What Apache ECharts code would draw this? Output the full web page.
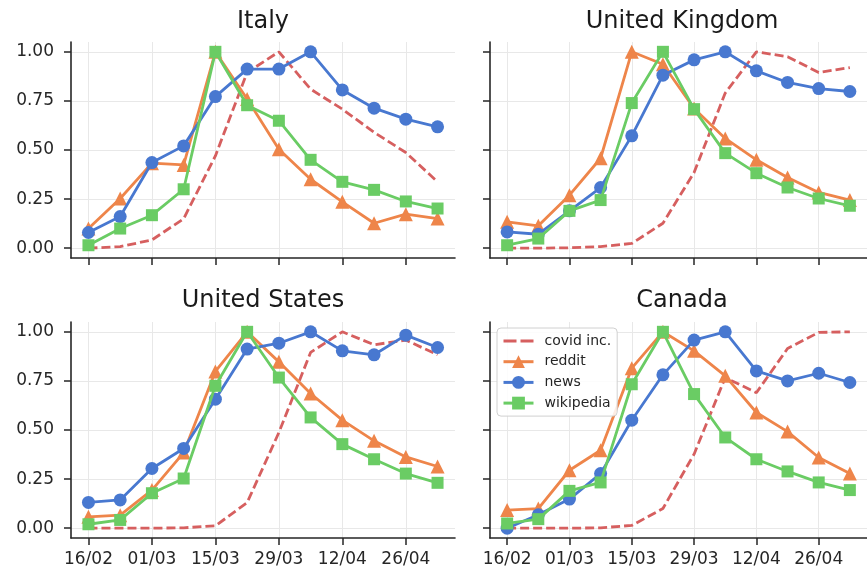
<!DOCTYPE html>
<html>
<head>
<meta charset="utf-8">
<script src="https://cdn.jsdelivr.net/npm/echarts@6/dist/echarts.min.js"></script>
<style>
html,body{margin:0;padding:0;background:#fff;}
#chart{width:867px;height:571px;}
</style>
</head>
<body>
<div id="chart"></div>
<script>
// ---- data ----
const weeks = ['16/02','23/02','01/03','08/03','15/03','22/03','29/03','05/04','12/04','19/04','26/04','03/05'];
const tickLabels = ['16/02','01/03','15/03','29/03','12/04','26/04'];
const yTickLabels = ['0.00','0.25','0.50','0.75','1.00'];
const countries = ['Italy','United Kingdom','United States','Canada'];
const seriesNames = ['covid inc.','reddit','news','wikipedia'];

const italyCovid  = [0, 0.008, 0.042, 0.15, 0.47, 0.895, 1.0, 0.81, 0.708, 0.59, 0.487, 0.338];
const italyReddit = [0.10, 0.253, 0.433, 0.424, 1.0, 0.76, 0.504, 0.351, 0.236, 0.127, 0.173, 0.151];
const italyNews   = [0.08, 0.161, 0.436, 0.521, 0.772, 0.912, 0.912, 1.0, 0.806, 0.713, 0.657, 0.618];
const italyWiki   = [0.015, 0.10, 0.168, 0.30, 1.0, 0.728, 0.649, 0.45, 0.338, 0.297, 0.238, 0.202];

const ukCovid  = [0, 0, 0.002, 0.008, 0.024, 0.127, 0.385, 0.79, 1.0, 0.975, 0.895, 0.92];
const ukReddit = [0.134, 0.114, 0.27, 0.458, 1.0, 0.937, 0.711, 0.559, 0.45, 0.36, 0.284, 0.245];
const ukNews   = [0.083, 0.071, 0.19, 0.309, 0.572, 0.881, 0.959, 1.0, 0.903, 0.844, 0.813, 0.798];
const ukWiki   = [0.015, 0.049, 0.19, 0.245, 0.739, 1.0, 0.708, 0.484, 0.382, 0.309, 0.253, 0.216];

const usCovid  = [0, 0, 0, 0.002, 0.012, 0.13, 0.487, 0.895, 1.0, 0.934, 0.958, 0.883];
const usReddit = [0.058, 0.066, 0.194, 0.385, 0.798, 1.0, 0.847, 0.686, 0.55, 0.445, 0.363, 0.314];
const usNews   = [0.131, 0.144, 0.304, 0.406, 0.657, 0.912, 0.942, 1.0, 0.903, 0.883, 0.983, 0.92];
const usWiki   = [0.02, 0.042, 0.178, 0.253, 0.725, 1.0, 0.767, 0.564, 0.428, 0.351, 0.278, 0.231];

const caCovid  = [0, 0, 0, 0.002, 0.014, 0.10, 0.377, 0.767, 0.69, 0.915, 0.997, 1.0];
const caReddit = [0.092, 0.10, 0.295, 0.397, 0.815, 1.0, 0.903, 0.776, 0.589, 0.492, 0.36, 0.278];
const caNews   = [0.0, 0.068, 0.148, 0.278, 0.55, 0.781, 0.958, 1.0, 0.801, 0.75, 0.789, 0.742];
const caWiki   = [0.024, 0.046, 0.19, 0.233, 0.733, 1.0, 0.683, 0.462, 0.351, 0.289, 0.233, 0.194];

const panelData = [
  [italyCovid, italyReddit, italyNews, italyWiki],
  [ukCovid, ukReddit, ukNews, ukWiki],
  [usCovid, usReddit, usNews, usWiki],
  [caCovid, caReddit, caNews, caWiki]
];

// ---- layout & style ----
const FONT = 'DejaVu Sans';
const TXT = '#262626';
const colors = ['#d65f5f', '#ee854a', '#4878d0', '#6acc64'];
const symbols = ['none', 'triangle', 'circle', 'rect'];
const symbolSizes = [0, 14, 13, 12];
const grids = [
  {left: 71, top: 42, width: 384, height: 216},
  {left: 490, top: 42, width: 384, height: 216},
  {left: 71, top: 322, width: 384, height: 216},
  {left: 490, top: 322, width: 384, height: 216}
];
const titleTops = [10, 10, 289, 289];

const xTickVals = tickLabels.map((_, i) => i * 2);
const yTickVals = yTickLabels.map((_, i) => i * 0.25);

const option = {
  animation: false,
  backgroundColor: '#fff',
  textStyle: {fontFamily: FONT},
  title: countries.map((c, i) => ({
    text: c,
    left: grids[i].left + grids[i].width / 2,
    top: titleTops[i],
    padding: 0,
    textAlign: 'center',
    textStyle: {fontFamily: FONT, fontSize: 24, fontWeight: 'normal', color: '#1a1a1a'}
  })),
  legend: {
    data: seriesNames.map((n, i) => i === 0
      ? {name: n, icon: 'path://M0,0h13v3h-13z M17,0h13v3h-13z'}
      : {name: n}),
    orient: 'vertical',
    left: 497,
    top: 328,
    padding: [6, 6, 6, 5],
    itemGap: 6.7,
    itemWidth: 30,
    itemHeight: 16,
    lineStyle: {width: 3},
    backgroundColor: 'rgba(255,255,255,0.85)',
    borderColor: '#d0d0d0',
    borderWidth: 1,
    borderRadius: 4,
    textStyle: {fontFamily: FONT, fontSize: 14, color: TXT, padding: [0, 0, 0, 6]}
  },
  grid: grids,
  xAxis: grids.map((g, i) => ({
    type: 'value',
    gridIndex: i,
    min: -0.55,
    max: 11.55,
    axisLine: {show: true, onZero: false, lineStyle: {color: TXT, width: 1.6}},
    axisTick: {show: true, length: 7, lineStyle: {color: TXT, width: 1.5}, customValues: xTickVals},
    axisLabel: {
      show: i >= 2,
      customValues: xTickVals,
      formatter: v => tickLabels[Math.round(v / 2)],
      fontFamily: FONT, fontSize: 17, color: TXT, margin: 13
    },
    splitLine: {show: true, lineStyle: {color: '#e8e8e8', width: 1}}
  })),
  yAxis: grids.map((g, i) => ({
    type: 'value',
    gridIndex: i,
    min: -0.05,
    max: 1.05,
    axisLine: {show: true, onZero: false, lineStyle: {color: TXT, width: 1.6}},
    axisTick: {show: true, length: 7, lineStyle: {color: TXT, width: 1.5}, customValues: yTickVals},
    axisLabel: {
      show: i % 2 === 0,
      customValues: yTickVals,
      formatter: v => yTickLabels[Math.round(v / 0.25)],
      fontFamily: FONT, fontSize: 17, color: TXT, margin: 17
    },
    splitLine: {show: true, lineStyle: {color: '#e8e8e8', width: 1}}
  })),
  series: []
};

panelData.forEach((arrs, p) => {
  arrs.forEach((vals, s) => {
    option.series.push({
      name: seriesNames[s],
      type: 'line',
      xAxisIndex: p,
      yAxisIndex: p,
      data: vals.map((v, k) => [k, v]),
      symbol: symbols[s],
      symbolSize: symbolSizes[s],
      showSymbol: s !== 0,
      color: colors[s],
      itemStyle: {color: colors[s]},
      lineStyle: {color: colors[s], width: 2.8, type: s === 0 ? [9, 4] : 'solid'},
      z: 2 + s
    });
  });
});

const chart = echarts.init(document.getElementById('chart'), null, {renderer: 'canvas'});
chart.setOption(option);
</script>
</body>
</html>
